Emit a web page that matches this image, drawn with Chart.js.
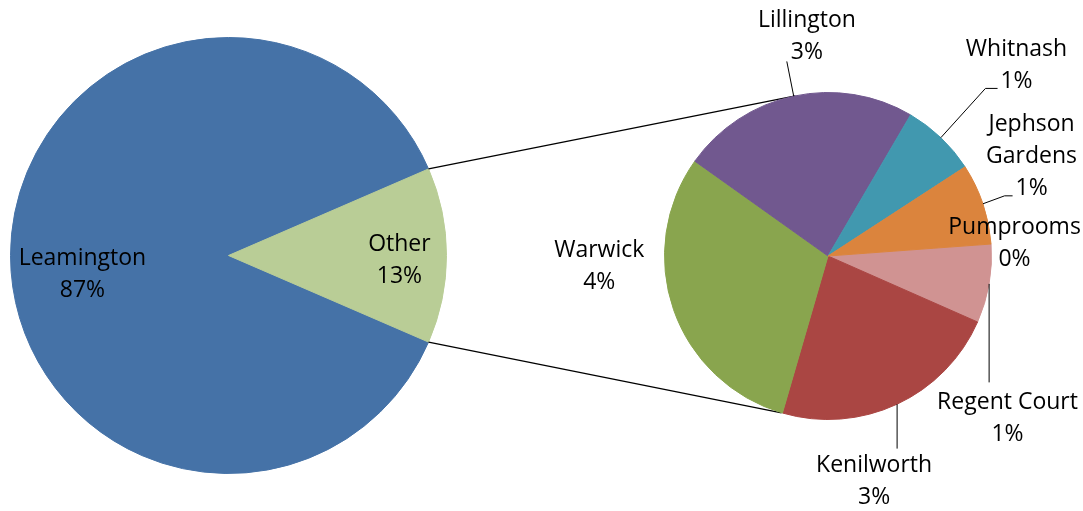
<!DOCTYPE html>
<html>
<head>
<meta charset="utf-8">
<title>Pie of pie</title>
<script src="https://cdn.jsdelivr.net/npm/chart.js@4.4.0/dist/chart.umd.min.js"></script>
<style>
  html, body { margin: 0; padding: 0; background: #fff; }
  #wrap { position: relative; width: 1083px; height: 511px; }
  #wrap canvas { position: absolute; left: 0; top: 0; }
</style>
</head>
<body>
<div id="wrap">
  <canvas id="mainPie" width="1083" height="511"></canvas>
  <canvas id="subPie" width="1083" height="511"></canvas>
</div>
<script>
// data
const mainLabels = ['Leamington', 'Other'];
const mainValues = [87, 13];
const mainColors = ['#4572A7', '#B9CD96'];

const subLabels = ['Regent Court', 'Kenilworth', 'Warwick', 'Lillington', 'Whitnash', 'Jephson Gardens', 'Pumprooms'];
const subValues = [1.01, 2.97, 3.94, 3.06, 0.96, 1.04, 0];
const subColors = ['#D09392', '#AA4643', '#89A54E', '#71588F', '#4198AF', '#DB843D', '#A47D7C'];

// label layout, in units of the pie radius, measured from the pie centre
const mainLayout = [
    { lines: ['Leamington'], pos: [-0.67, 0.087] },
    { lines: ['Other'], pos: [0.784, 0.023] }
];
const subLayout = [
    { lines: ['Regent Court'], pos: [1.098, 0.991], leader: [[null, 0.773]] },
    { lines: ['Kenilworth'], pos: [0.282, 1.38], leader: [[null, 1.178]] },
    { lines: ['Warwick'], pos: [-1.399, 0.061] },
    { lines: ['Lillington'], pos: [-0.129, -1.344], leader: [[-0.252, -1.19]] },
    { lines: ['Whitnash'], pos: [1.153, -1.166], leader: [[0.963, -1.025], [1.037, -1.025]] },
    { lines: ['Jephson', 'Gardens'], pos: [1.245, -0.607], leader: [[1.08, -0.368], [1.129, -0.368]] },
    { lines: ['Pumprooms'], pos: [1.141, -0.074] }
];

const FONT = '23px "Open Sans"';
const LINE_H = 32;

const sliceLabels = {
    id: 'sliceLabels',
    afterDraw(chart, args, opts) {
        const arcs = chart.getDatasetMeta(0).data;
        const values = chart.data.datasets[0].data;
        const ctx = chart.ctx;
        ctx.save();
        ctx.font = FONT;
        ctx.fillStyle = '#000';
        ctx.textAlign = 'center';
        ctx.textBaseline = 'middle';
        opts.layout.forEach((item, i) => {
            const arc = arcs[i];
            const r = arc.outerRadius;
            const mid = (arc.startAngle + arc.endAngle) / 2;
            const rimX = arc.x + r * Math.cos(mid);
            const rimY = arc.y + r * Math.sin(mid);
            if (item.leader) {
                ctx.beginPath();
                ctx.strokeStyle = '#000';
                ctx.lineWidth = 1;
                ctx.moveTo(rimX, rimY);
                item.leader.forEach(p => {
                    const px = p[0] === null ? rimX : arc.x + p[0] * r;
                    ctx.lineTo(px, arc.y + p[1] * r);
                });
                ctx.stroke();
            }
            const lines = item.lines.concat([Math.round(values[i]) + '%']);
            const bx = arc.x + item.pos[0] * r;
            const by = arc.y + item.pos[1] * r;
            lines.forEach((t, k) => {
                ctx.fillText(t, bx, by + (k - (lines.length - 1) / 2) * LINE_H);
            });
        });
        ctx.restore();
    }
};

function init() {
    const mainTotal = mainValues.reduce((a, b) => a + b, 0);
    const mainChart = new Chart(document.getElementById('mainPie'), {
        type: 'pie',
        data: {
            labels: mainLabels,
            datasets: [{
                data: mainValues,
                backgroundColor: mainColors,
                borderColor: mainColors,
                borderWidth: 1,
                hoverOffset: 0
            }]
        },
        options: {
            responsive: false,
            animation: false,
            events: [],
            // Other slice centred on 3 o'clock
            rotation: 90 + mainValues[1] / mainTotal * 180,
            layout: { padding: { left: 10, right: 636, top: 37, bottom: 37 } },
            plugins: {
                legend: { display: false },
                tooltip: { enabled: false },
                sliceLabels: { layout: mainLayout }
            }
        },
        plugins: [sliceLabels]
    });

    // lines joining the Other slice to the second pie
    const connectors = {
        id: 'connectors',
        beforeDatasetsDraw(chart) {
            const other = mainChart.getDatasetMeta(0).data[1];
            const sub = chart.getDatasetMeta(0).data[0];
            const ends = [
                [other.startAngle, 258.5],
                [other.endAngle, 106.5]
            ];
            const ctx = chart.ctx;
            ctx.save();
            ctx.strokeStyle = '#000';
            ctx.lineWidth = 1.3;
            ends.forEach(([a, deg]) => {
                const b = deg * Math.PI / 180;
                ctx.beginPath();
                ctx.moveTo(other.x + other.outerRadius * Math.cos(a), other.y + other.outerRadius * Math.sin(a));
                ctx.lineTo(sub.x + sub.outerRadius * Math.cos(b), sub.y + sub.outerRadius * Math.sin(b));
                ctx.stroke();
            });
            ctx.restore();
        }
    };

    new Chart(document.getElementById('subPie'), {
        type: 'pie',
        data: {
            labels: subLabels,
            datasets: [{
                data: subValues,
                backgroundColor: subColors,
                borderColor: subColors,
                borderWidth: subValues.map(v => v > 0 ? 1 : 0),
                hoverOffset: 0
            }]
        },
        options: {
            responsive: false,
            animation: false,
            events: [],
            rotation: 85.8,
            layout: { padding: { left: 664, right: 91, top: 92, bottom: 91 } },
            plugins: {
                legend: { display: false },
                tooltip: { enabled: false },
                sliceLabels: { layout: subLayout }
            }
        },
        plugins: [connectors, sliceLabels]
    });
}

if (document.fonts && document.fonts.load) {
    document.fonts.load(FONT).then(init, init);
} else {
    init();
}
</script>
</body>
</html>
